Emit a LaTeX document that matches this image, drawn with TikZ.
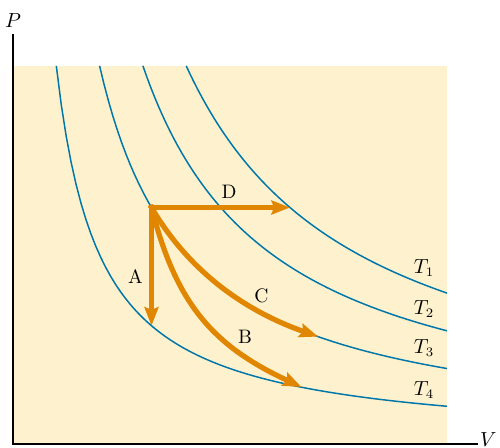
\documentclass[tikz,border=0pt]{standalone}
\usetikzlibrary{arrows.meta}
\definecolor{bgyellow}{RGB}{254,242,206}
\definecolor{isoblue}{RGB}{0,119,170}
\definecolor{pathorange}{RGB}{224,134,0}
\tikzset{
  iso/.style={isoblue, line width=0.8pt},
  proc/.style={pathorange, line width=2.8pt, line cap=rect,
    -{Stealth[length=10pt,width=7.5pt,inset=1.5pt]}},
  axis/.style={black, line width=1.1pt},
  lbl/.style={text=black, font=\fontsize{10.5}{12}\selectfont}
}
\begin{document}
\begin{tikzpicture}[x=0.945cm, y=0.945cm]
  \useasboundingbox (-0.26,-0.08) rectangle (9.74,8.88);
  \fill[bgyellow] (0,0) rectangle (8.68,7.56);

  % isotherms, PV = const
  \foreach \n in {1,...,4}
    \draw[iso] plot[domain=0.866*\n:8.68, samples=80] (\x, {6.55*\n/\x});

  \coordinate (O) at (0,0);
  \coordinate (ytop) at (0,8.2);
  \coordinate (xend) at (9.3,0);
  \draw[axis] (ytop) -- (O) -- (xend);
  \node[lbl, above] (P) at (ytop) {$P$};
  \node[lbl, anchor=west, inner sep=1pt, yshift=2.5pt] (V) at (xend) {$V$};

  % start state and the four end states
  \coordinate (S) at (2.77,4.73);
  \coordinate (A) at (2.77,2.365);
  \coordinate (B) at (5.77,1.14);
  \coordinate (C) at (6.1,2.148);
  \coordinate (D) at (5.54,4.73);

  \draw[proc] (S) -- node[lbl, pos=0.58, left] (labA) {A} (A);
  \draw[proc] (S) .. controls (3.25,2.85) and (3.956,1.98) .. node[lbl, pos=0.7, above right, inner sep=1pt] (labB) {B} (B);
  \draw[proc] (S) .. controls (3.724,3.102) and (5.146,2.484) .. node[lbl, pos=0.65, above] (labC) {C} (C);
  \draw[proc] (S) -- node[lbl, pos=0.56, above] (labD) {D} (D);

  \node[lbl] (T1) at (8.22,3.52) {$T_1$};
  \node[lbl] (T2) at (8.22,2.70) {$T_2$};
  \node[lbl] (T3) at (8.22,1.92) {$T_3$};
  \node[lbl] (T4) at (8.22,1.08) {$T_4$};
\end{tikzpicture}
\end{document}
